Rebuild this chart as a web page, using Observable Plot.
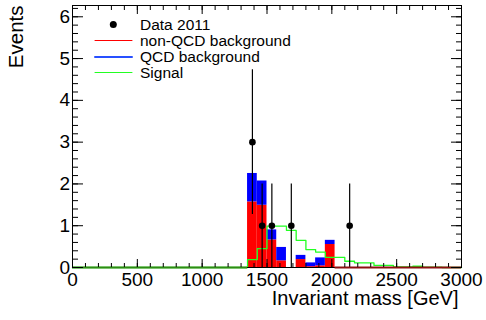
<!DOCTYPE html>
<html><head><meta charset="utf-8">
<script src="https://cdn.jsdelivr.net/npm/d3@7"></script>
<script src="https://cdn.jsdelivr.net/npm/@observablehq/plot@0.6"></script>
<style>body{margin:0;background:#fff} svg{display:block}</style>
</head><body><div id="chart"></div>
<script>
// Stacked background histogram (75 GeV bins)
const binLow = [1350, 1425, 1500, 1575, 1650, 1725, 1800, 1875, 1950];
const binWidth = 75;
const nonQCD = [1.57, 1.49, 0.66, 0.16, 0, 0.19, 0.02, 0.04, 0.55];
const qcd    = [0.68, 0.58, 0.24, 0.32, 0, 0.10, 0.09, 0.19, 0.10];
// Signal step line (lower edges, values)
const sigLow = [0, 1350, 1425, 1500, 1575, 1650, 1725, 1800, 1875, 1950, 2100, 2175, 2325, 2475, 2625, 2700, 2850];
const sigVal = [0, 0.19, 0.45, 0.99, 0.99, 0.89, 0.65, 0.43, 0.37, 0.24, 0.15, 0.11, 0.05, 0.015, 0.03, 0.008, 0];
const sigEnd = 3000;
// Data 2011
const dataMass  = [1387.5, 1462.5, 1537.5, 1687.5, 2137.5];
const dataCount = [3, 1, 1, 1, 1];
// Axes
const xTicks = [0, 500, 1000, 1500, 2000, 2500, 3000];
const yTicks = [0, 1, 2, 3, 4, 5, 6];
const xMinor = d3.range(0, 3001, 100);
const yMinor = d3.range(0, 6.21, 0.2);
const xDomain = [0, 3000];
const yDomain = [0, 6.27];
// Legend
const legendNames  = ["Data 2011", "non-QCD background", "QCD background", "Signal"];
const legendColors = ["black", "#ff0000", "#2850ff", "#22ff22"];

const bars = binLow.map((x, i) => ({x1: x, x2: x + binWidth, red: nonQCD[i], tot: nonQCD[i] + qcd[i]}));
const sig = sigLow.map((x, i) => ({x, y: sigVal[i]})).concat([{x: sigEnd, y: sigVal[sigVal.length - 1]}]);
const pts = dataMass.map((m, i) => ({m, n: dataCount[i]}));

const lineShape = {draw(context, l) { context.moveTo(0, 0); context.lineTo(0, -l); }};
const rowDy = [19, 35, 51.5, 67];
const rowW = [0, 1, 2, 1];
const legendMarks = [];
legendNames.forEach((name, i) => {
  const dy = rowDy[i];
  legendMarks.push(Plot.text([name], {text: d => d, frameAnchor: "top-left", dx: 67.5, dy: dy + 0.5, textAnchor: "start", lineAnchor: "middle", fontSize: 15.5, fill: "black"}));
  if (i === 0) {
    legendMarks.push(Plot.dot([name], {frameAnchor: "top-left", dx: 40.8, dy, r: 3.5, fill: "black", stroke: "none"}));
  } else {
    legendMarks.push(Plot.vector([name], {frameAnchor: "top-left", dx: 22.5, dy, length: 37, rotate: 90, anchor: "start", shape: lineShape, stroke: legendColors[i], strokeWidth: rowW[i]}));
  }
});

const lastEdge = binLow[binLow.length - 1] + binWidth;

const chart = Plot.plot({
  width: 486, height: 320,
  marginLeft: 72, marginRight: 25, marginTop: 5, marginBottom: 53,
  x: {domain: xDomain},
  y: {domain: yDomain},
  style: {fontFamily: "'Liberation Sans', Arial, sans-serif", fontSize: "19px", background: "white", color: "black"},
  marks: [
    Plot.rectY(bars, {x1: "x1", x2: "x2", y1: 0, y2: "red", fill: "#ff0000"}),
    Plot.rectY(bars, {x1: "x1", x2: "x2", y1: "red", y2: "tot", fill: "#0000ff"}),
    Plot.line(sig, {x: "x", y: "y", curve: "step-after", stroke: "#22ff22", strokeWidth: 1.3}),
    Plot.ruleX(pts, {x: "m", y1: d => d.n - Math.sqrt(d.n), y2: d => d.n + Math.sqrt(d.n), stroke: "black", strokeWidth: 1.2}),
    Plot.dot(pts, {x: "m", y: "n", r: 3.3, fill: "black", stroke: "none"}),
    Plot.frame({stroke: "black", strokeWidth: 1}),
    Plot.ruleY([0], {x1: xDomain[0], x2: sigLow[1], stroke: "#2f8a14", strokeWidth: 2}),
    Plot.ruleY([0], {x1: lastEdge, x2: xDomain[1], stroke: "#8b1010", strokeWidth: 2}),
    Plot.axisX(xTicks, {anchor: "bottom", tickSize: -8, tickPadding: 12.5, tickFormat: d => String(d), fontSize: 19, label: null}),
    Plot.axisX(xMinor, {anchor: "bottom", tickSize: -4, tickFormat: () => "", label: null}),
    Plot.axisX(xTicks, {anchor: "top", tickSize: -8, tickFormat: () => "", label: null}),
    Plot.axisX(xMinor, {anchor: "top", tickSize: -4, tickFormat: () => "", label: null}),
    Plot.axisY(yTicks, {anchor: "left", tickSize: -11, tickPadding: 13.5, tickFormat: d => String(d), fontSize: 19, label: null}),
    Plot.axisY(yMinor, {anchor: "left", tickSize: -6, tickFormat: () => "", label: null}),
    Plot.axisY(yTicks, {anchor: "right", tickSize: -11, tickFormat: () => "", label: null}),
    Plot.axisY(yMinor, {anchor: "right", tickSize: -6, tickFormat: () => "", label: null}),
    Plot.text(["Events"], {text: d => d, frameAnchor: "top-left", rotate: -90, textAnchor: "end", lineAnchor: "middle", dx: -56, dy: 0, fontSize: 20.5}),
    Plot.text(["Invariant mass [GeV]"], {text: d => d, frameAnchor: "bottom-right", textAnchor: "end", lineAnchor: "bottom", dx: -3, dy: 37, fontSize: 20}),
    ...legendMarks
  ]
});
document.getElementById("chart").appendChild(chart);
</script>
</body></html>
